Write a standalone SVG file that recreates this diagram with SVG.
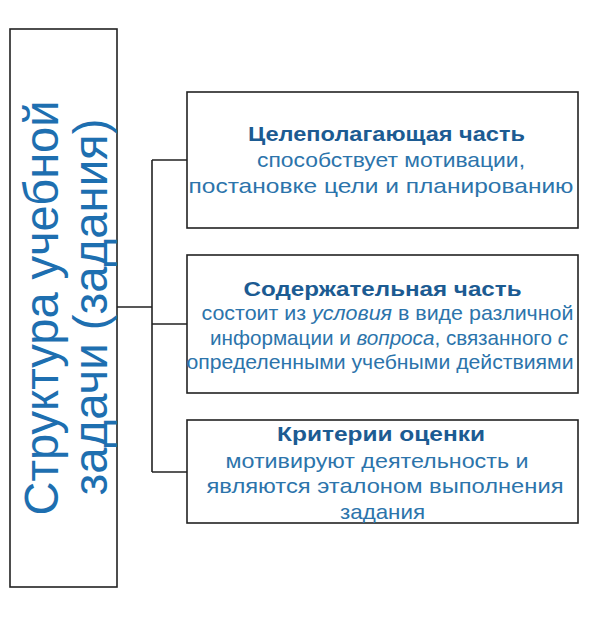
<svg xmlns="http://www.w3.org/2000/svg" width="600" height="637" viewBox="0 0 600 637">
<style>
.box{fill:#ffffff;stroke:#222222;stroke-width:1.6}
.ln{fill:none;stroke:#222222;stroke-width:1.6}
.t{font-family:"Liberation Sans",Arial,sans-serif;font-size:21px;font-weight:bold;fill:#1c5b92;text-anchor:middle}
.b{font-family:"Liberation Sans",Arial,sans-serif;font-size:21px;fill:#2c74ab;text-anchor:middle}
.v{font-family:"Liberation Sans",Arial,sans-serif;font-size:48px;fill:#1e6fb0;text-anchor:middle}
.i{font-style:italic}
</style>
<rect width="600" height="637" fill="#ffffff"/>
<g id="connectors">
<path class="ln" d="M117,307H152M152,160V472M152,160H187M152,324H187M152,472H187"/>
</g>
<g id="root">
<rect class="box" x="10" y="29" width="107" height="558"/>
<text class="v" transform="translate(58,308) rotate(-90)" textLength="415" lengthAdjust="spacingAndGlyphs">Структура учебной</text>
<text class="v" transform="translate(107,307) rotate(-90)" textLength="377" lengthAdjust="spacingAndGlyphs">задачи (задания)</text>
</g>
<g id="goal">
<rect class="box" x="187" y="92" width="391" height="136"/>
<text class="t" x="386.5" y="141" textLength="277" lengthAdjust="spacingAndGlyphs">Целеполагающая часть</text>
<text class="b" x="391" y="167" textLength="268" lengthAdjust="spacingAndGlyphs">способствует мотивации,</text>
<text class="b" x="381" y="193" textLength="385" lengthAdjust="spacingAndGlyphs">постановке цели и планированию</text>
</g>
<g id="content">
<rect class="box" x="187" y="255" width="391" height="138"/>
<text class="t" x="382.5" y="296" textLength="278" lengthAdjust="spacingAndGlyphs">Содержательная часть</text>
<text class="b" x="387.5" y="320" textLength="372" lengthAdjust="spacingAndGlyphs">состоит из <tspan class="i">условия</tspan> в виде различной</text>
<text class="b" x="389" y="345" textLength="358" lengthAdjust="spacingAndGlyphs">информации и <tspan class="i">вопроса</tspan>, связанного <tspan class="i">с</tspan></text>
<text class="b" x="380" y="369" textLength="387" lengthAdjust="spacingAndGlyphs">определенными учебными действиями</text>
</g>
<g id="criteria">
<rect class="box" x="187" y="420" width="391" height="103"/>
<text class="t" x="381" y="441" textLength="208" lengthAdjust="spacingAndGlyphs">Критерии оценки</text>
<text class="b" x="377" y="468" textLength="303" lengthAdjust="spacingAndGlyphs">мотивируют деятельность и</text>
<text class="b" x="385" y="493" textLength="357" lengthAdjust="spacingAndGlyphs">являются эталоном выполнения</text>
<text class="b" x="382.5" y="519" textLength="85" lengthAdjust="spacingAndGlyphs">задания</text>
</g>
</svg>
